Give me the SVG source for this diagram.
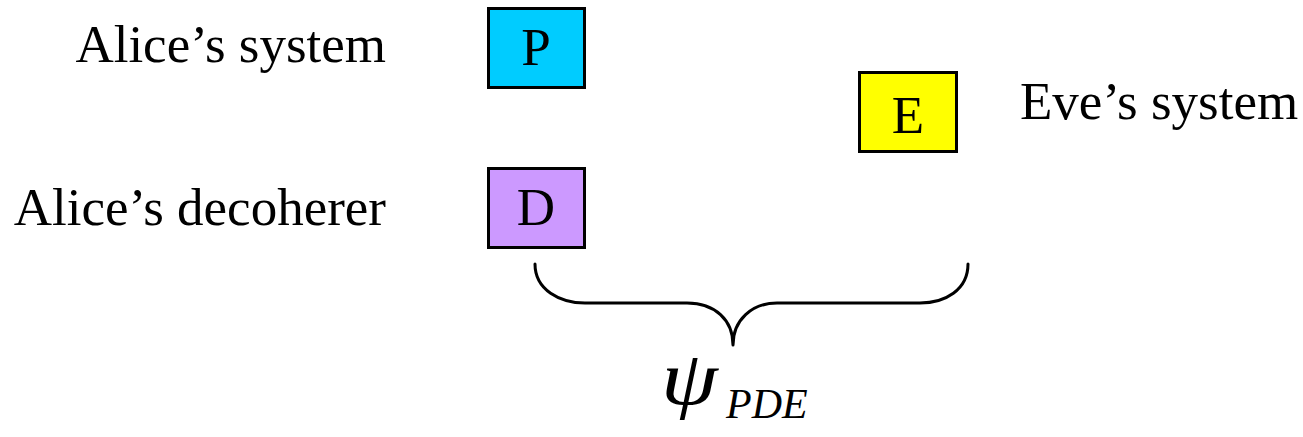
<svg xmlns="http://www.w3.org/2000/svg" width="1303" height="437" viewBox="0 0 1303 437">
  <style>
    .box { stroke: #000; stroke-width: 3; }
    .lbl { font-family: "Liberation Serif", "Times New Roman", serif; font-size: 53px; fill: #000; }
    .mid { text-anchor: middle; }
    .end { text-anchor: end; }
    .brace { fill: none; stroke: #000; stroke-width: 3; stroke-linecap: round; stroke-linejoin: round; }
    .math { font-family: "Liberation Serif", "Times New Roman", serif; font-style: italic; fill: #000; }
  </style>
  <rect width="1303" height="437" fill="#fff"/>

  <g id="node-P">
    <rect class="box" x="488.5" y="8.5" width="96" height="79" fill="#00ccff"/>
    <text class="lbl mid" x="536" y="65">P</text>
  </g>
  <g id="node-D">
    <rect class="box" x="488.5" y="168.5" width="96" height="79" fill="#cc99ff"/>
    <text class="lbl mid" x="536" y="225">D</text>
  </g>
  <g id="node-E">
    <rect class="box" x="859.5" y="72.5" width="97" height="79" fill="#ffff00"/>
    <text class="lbl mid" x="908" y="133">E</text>
  </g>

  <g id="labels">
    <text class="lbl end" x="386" y="62">Alice’s system</text>
    <text class="lbl end" x="386" y="225">Alice’s decoherer</text>
    <text class="lbl" x="1020" y="119">Eve’s system</text>
  </g>

  <g id="connectors">
    <path class="brace" d="M535,264 C535,290 560,303 585,303 L687,303 C715,303 733,320 733,345 C733,320 752,303 777,303 L920,303 C945,303 968,290 968,264"/>
  </g>

  <g id="state">
    <text class="math" transform="translate(661,404) scale(1.2,1)" font-size="76">ψ</text>
    <text class="math" x="726" y="418" font-size="42">PDE</text>
  </g>
</svg>
